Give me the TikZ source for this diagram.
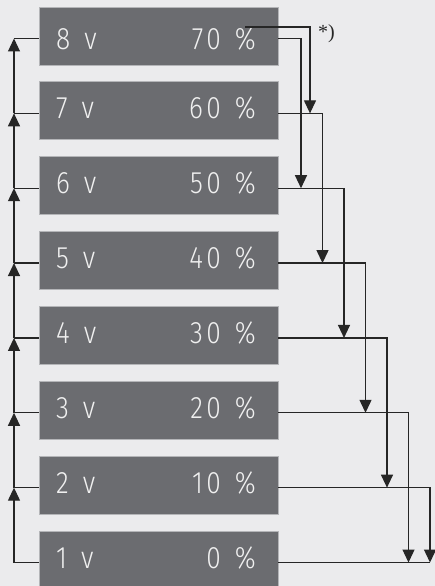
\documentclass[tikz,border=0pt]{standalone}
\usepackage{fontspec}
\newfontfamily\cellfont[FakeStretch=0.85,LetterSpace=11,WordSpace=1.3]{Fira Sans Light}
\setmainfont{Liberation Serif}
\usetikzlibrary{arrows.meta}
\usetikzlibrary{positioning}
\usetikzlibrary{calc}
\definecolor{bgcol}{HTML}{EBEBED}
\definecolor{cellcol}{HTML}{6B6C70}
\definecolor{edgecol}{HTML}{B4B5B8}
\definecolor{wirecol}{HTML}{262626}
\tikzset{
    cell/.style={draw=edgecol, line width=0.8pt, fill=cellcol,
        minimum width=239pt, minimum height=58pt, inner sep=0pt, outer sep=0pt},
    celltext/.style={text=white!94!black, inner sep=0pt,
        font=\cellfont\fontsize{31}{33}\selectfont},
    wire/.style={draw=wirecol, line width=1.2pt},
    wirearrow/.style={wire, -{Triangle[width=12pt,length=13pt]}},
    note/.style={text=wirecol, inner sep=0pt, font=\fontsize{20}{22}\selectfont}
}

\begin{document}
\begin{tikzpicture}[x=1pt,y=-1pt,node distance=16.86pt]
	\fill[bgcol] (0,0) rectangle (435,586);
	\useasboundingbox (0,0) rectangle (435,586);
	% the eight steps
	\node[cell] (b8) at (158.5,36) {};
	\node[cell,below=of b8] (b7) {};
	\node[cell,below=of b7] (b6) {};
	\node[cell,below=of b6] (b5) {};
	\node[cell,below=of b5] (b4) {};
	\node[cell,below=of b4] (b3) {};
	\node[cell,below=of b3] (b2) {};
	\node[cell,below=of b2] (b1) {};
	\foreach \k/\p/\o in {8/70/13,7/60/8,6/50/8,5/40/8,4/30/8,3/20/8,2/10/8,1/0/8} {
		\node[celltext,anchor=base west] (v\k) at ($(b\k.west)+(17,\o)$) {\k\ v};
		\node[celltext,anchor=base east] (p\k) at ($(b\k.east)+(-22,\o)$) {\p\ \%};
	}
	% wires
	\foreach \k in {1,...,8} {
		\coordinate (L\k) at ($(b\k.west)+(-25,2.5)$);
		\coordinate (R\k) at ($(b\k.east)+(0,2.5)$);
		\draw[wire] (L\k) -- (b\k.west |- L\k);
	}
	\foreach \j/\k in {1/2,2/3,3/4,4/5,5/6,6/7,7/8}
		\draw[wirearrow] (L\j) -- (L\k);
	\foreach \k/\j/\d in {8/6/23,7/5/44.5,6/4/66,5/3/87.5,4/2/109,3/1/130.5,2/1/152}
		\draw[wirearrow] (R\k) -| ([xshift=\d pt]R\j);
	\draw[wire] (R1) -- ([xshift=152pt]R1);
	\coordinate (s) at ($(b8.north east)+(-33,20)$);
	\draw[wirearrow] (s) -| ([xshift=32pt]R7);
	\node[note,anchor=west] (fn) at ($(b8.east)+(40,-2)$) {*)};
\end{tikzpicture}
\end{document}
